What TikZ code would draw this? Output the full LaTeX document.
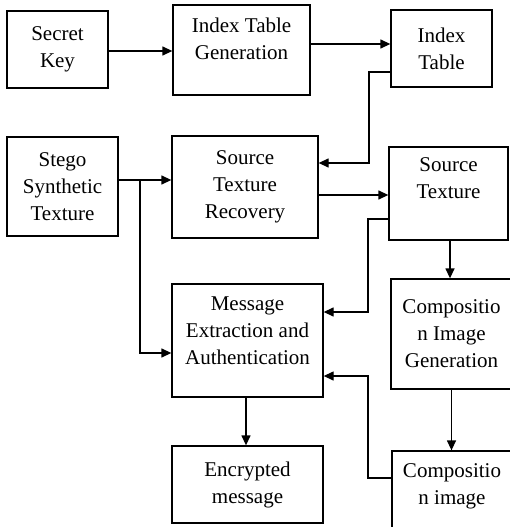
\documentclass[tikz,border=0pt]{standalone}
\usepackage{fontspec}
\setmainfont{Liberation Serif}
\usetikzlibrary{arrows.meta}
\tikzset{
    block/.style={draw, line width=1.3pt, align=center, inner sep=0pt,
        font=\fontsize{21}{27}\selectfont},
    flow/.style={line width=1.3pt, -{Triangle[length=10pt,width=9pt]}}
}
\begin{document}
\begin{tikzpicture}[x=1pt,y=-1pt]
    \useasboundingbox (0,0) rectangle (510,527);
    % top row
    \node[block, minimum width=101pt, minimum height=77pt] (key) at (57.5,49.5) {Secret\\Key};
    \node[block, minimum width=137pt, minimum height=90pt, text depth=22pt] (gen) at (241.5,50) {Index Table\\Generation};
    \node[block, minimum width=101pt, minimum height=77pt] (table) at (441.5,48.5) {Index\\Table};
    % second row
    \node[block, minimum width=111pt, minimum height=99pt] (stego) at (62.5,186.5) {Stego\\Synthetic\\Texture};
    \node[block, minimum width=146pt, minimum height=102pt] (recov) at (245,187) {Source\\Texture\\Recovery};
    \node[block, minimum width=119pt, minimum height=93pt, text depth=30pt] (src) at (448.5,193.5) {Source\\Texture};
    % third row
    \node[block, minimum width=151pt, minimum height=113pt, text depth=20pt] (extr) at (247.5,340.5) {Message\\Extraction and\\Authentication};
    \node[block, minimum width=121pt, minimum height=110pt] (comp) at (451.5,334) {Compositio\\n Image\\Generation};
    % bottom row
    \node[block, minimum width=151pt, minimum height=77pt] (msg) at (247.5,484.5) {Encrypted\\message};
    \node[block, minimum width=120pt, minimum height=80pt, text depth=14pt] (img) at (452,491) {Compositio\\n image};
    % key and index table
    \draw[flow] ([yshift=-1.5pt]key.east) -- ([yshift=-1.5pt]key.east -| gen.west);
    \draw[flow] ([yshift=6pt]gen.east) -- ([yshift=6pt]gen.east -| table.west);
    \draw[flow] ([yshift=-23.5pt]table.west) -| (369,163) -- ([yshift=24pt]recov.east);
    % stego texture
    \draw[flow] ([yshift=6.5pt]stego.east) -- ([yshift=6.5pt]stego.east -| recov.west);
    \draw[flow] (140,180) |- ([yshift=-12.5pt]extr.west);
    \draw[flow] ([yshift=-8pt]recov.east) -- ([yshift=-8pt]recov.east -| src.west);
    % source texture
    \draw[flow] ([yshift=-25.5pt]src.west) -| (368,312) -- ([yshift=28.5pt]extr.east);
    \draw[flow] ([xshift=1.5pt]src.south) -- ([xshift=1.5pt]src.south |- comp.north);
    \draw[flow] (comp.south) -- (comp.south |- img.north);
    \draw[flow] ([yshift=13pt]img.west) -| (368,376) -- ([yshift=-35.5pt]extr.east);
    % output
    \draw[flow] ([xshift=-1.5pt]extr.south) -- ([xshift=-1.5pt]extr.south |- msg.north);
\end{tikzpicture}
\end{document}
